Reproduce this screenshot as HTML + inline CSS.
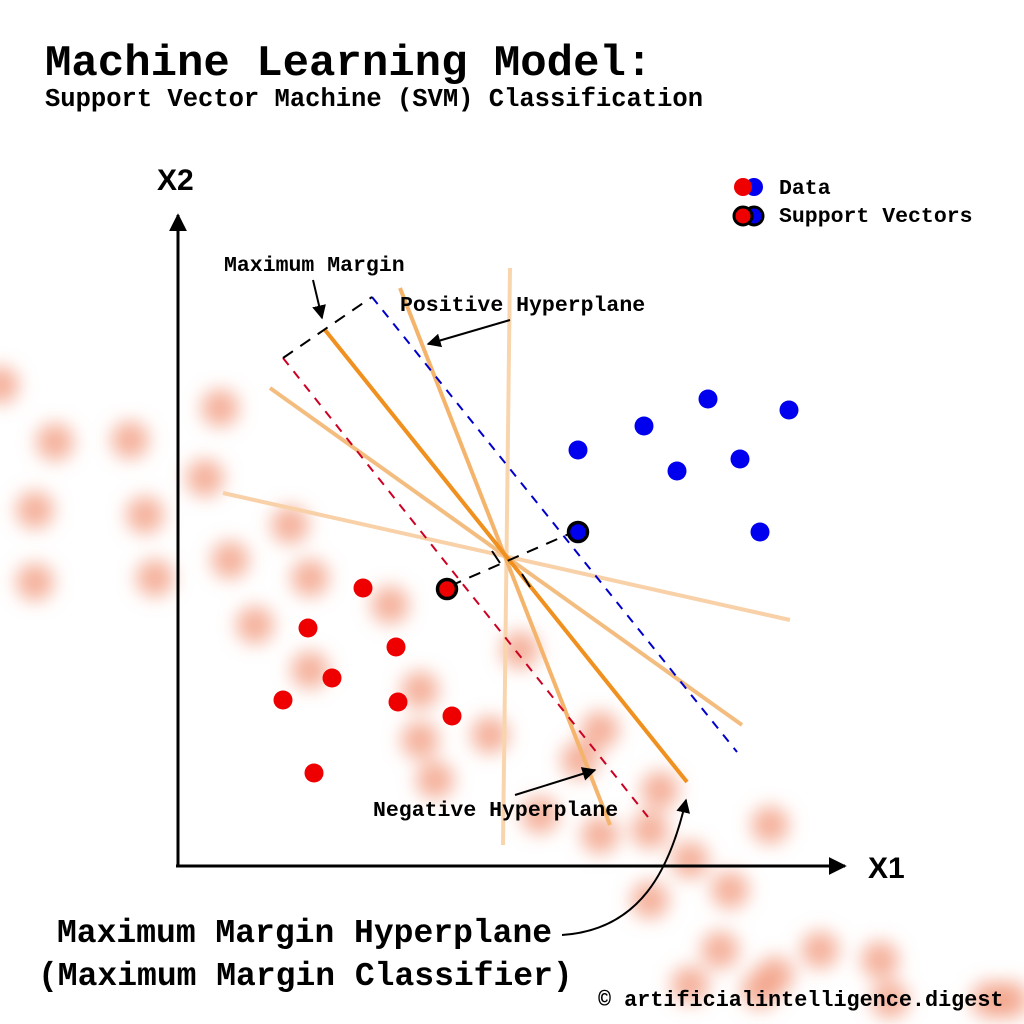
<!DOCTYPE html>
<html><head><meta charset="utf-8"><style>
html,body{margin:0;padding:0;background:#fff;}
svg{display:block;}
.m{font-family:"Liberation Mono",monospace;font-weight:bold;fill:#000;}
</style></head><body>
<svg id="chart" width="1024" height="1024" viewBox="0 0 1024 1024" xmlns="http://www.w3.org/2000/svg">
<defs>
<filter id="blur" x="-50%" y="-50%" width="200%" height="200%"><feGaussianBlur stdDeviation="9"/></filter>
<marker id="ah" viewBox="0 0 10 10" refX="9" refY="5" markerWidth="7" markerHeight="7" orient="auto"><path d="M0,0 L10,5 L0,10 z" fill="#000"/></marker>
<marker id="big" viewBox="0 0 10 10" refX="9" refY="5" markerWidth="6" markerHeight="6" orient="auto"><path d="M0,0 L10,5 L0,10 z" fill="#000"/></marker>
</defs>
<g id="bg" filter="url(#blur)"></g>
<text class="m" x="45" y="75" font-size="44">Machine Learning Model:</text>
<text class="m" x="45" y="106" font-size="25.5">Support Vector Machine (SVM) Classification</text>
<g id="axes">
<line x1="178" y1="866" x2="178" y2="215" stroke="#000" stroke-width="3" marker-end="url(#big)"/>
<line x1="176" y1="866" x2="845" y2="866" stroke="#000" stroke-width="3" marker-end="url(#big)"/>
<text x="157" y="190" font-family="Liberation Sans,sans-serif" font-weight="bold" font-size="30">X2</text>
<text x="868" y="878" font-family="Liberation Sans,sans-serif" font-weight="bold" font-size="30">X1</text>
</g>
<g id="lines"></g>
<g id="points"></g>
<g>
<text class="m" x="224" y="271" font-size="21.5">Maximum Margin</text>
<line x1="313" y1="280" x2="322" y2="318" stroke="#000" stroke-width="2" marker-end="url(#ah)"/>
<text class="m" x="400" y="311" font-size="21.5">Positive Hyperplane</text>
<line x1="510" y1="320" x2="428" y2="344" stroke="#000" stroke-width="2" marker-end="url(#ah)"/>
<text class="m" x="373" y="816" font-size="21.5">Negative Hyperplane</text>
<line x1="515" y1="795" x2="595" y2="770" stroke="#000" stroke-width="2" marker-end="url(#ah)"/>
<path d="M562,935 C640,930 670,870 686,800" fill="none" stroke="#000" stroke-width="2" marker-end="url(#ah)"/>
<text class="m" x="57" y="942" font-size="33">Maximum Margin Hyperplane</text>
<text class="m" x="38" y="985" font-size="33">(Maximum Margin Classifier)</text>
<text class="m" x="598" y="1006" font-size="21.8">© artificialintelligence.digest</text>
</g>
<g>
<circle cx="754" cy="187" r="9" fill="#0000ee"/><circle cx="743" cy="187" r="9" fill="#ee0000"/>
<text class="m" x="779" y="194" font-size="21.5">Data</text>
<circle cx="754" cy="216" r="9" fill="#0000ee" stroke="#000" stroke-width="3"/><circle cx="743" cy="216" r="9" fill="#ee0000" stroke="#000" stroke-width="3"/>
<text class="m" x="779" y="222" font-size="21.5">Support Vectors</text>
</g>
</svg>
<script>
// data units: 1 unit = 10px from axis origin
const redX1 = [18.5, 13, 21.8, 15.4, 10.5, 22, 27.4, 13.6];
const redX2 = [27.7, 23.7, 21.8, 18.7, 16.5, 16.3, 14.9, 9.2];
const blueX1 = [40, 46.6, 53, 61.1, 49.9, 56.2, 58.2];
const blueX2 = [41.5, 43.9, 46.6, 45.5, 39.4, 40.6, 33.3];
const supportX1 = [26.9, 40];
const supportX2 = [27.6, 33.3];
const supportClass = ["red", "blue"];
const bgX = [0,55,130,220,205,35,145,35,155,230,290,310,255,390,310,420,490,420,520,435,540,600,660,690,730,770,650,720,775,820,880,690,760,890,990,600,580,1010,650];
const bgY = [385,442,440,408,478,510,515,582,578,560,525,578,625,605,670,690,735,740,650,780,815,835,790,860,890,825,900,950,975,950,960,985,990,1000,1000,730,760,1000,830];
const xs = v => 178 + v * 10;
const ys = v => 865 - v * 10;
const NS = "http://www.w3.org/2000/svg";
function mk(tag, attrs, parent) {
  const e = document.createElementNS(NS, tag);
  for (const k in attrs) e.setAttribute(k, attrs[k]);
  parent.appendChild(e);
  return e;
}
const bg = document.getElementById('bg');
for (let i = 0; i < bgX.length; i++) {
  const c = mk('circle', {cx: bgX[i], cy: bgY[i], r: 19, fill: '#f29a7c', opacity: 0.75}, bg);
  
  
}
const L = document.getElementById('lines');
function ln(a, st) {
  const e = mk('line', Object.assign({x1: a[0], y1: a[1], x2: a[2], y2: a[3]}, st), L);
  return e;
}
let e;
e = ln([510,268,503,845], {stroke:'#f9d5ad', 'stroke-width':4});


e = ln([223,493,790,620], {stroke:'#f8d1a8', 'stroke-width':4});


e = ln([270,388,742,725], {stroke:'#f4bd80', 'stroke-width':4});


e = ln([400,288,610,825], {stroke:'#f4b46c', 'stroke-width':4});


e = ln([372,297,737,752], {stroke:'#0000cc', 'stroke-width':2, 'stroke-dasharray':'9,8'});


e = ln([283,358,648,817], {stroke:'#cc0022', 'stroke-width':2, 'stroke-dasharray':'9,8'});


e = ln([325,330,687,782], {stroke:'#f0901e', 'stroke-width':4});


e = ln([283,358,372,297], {stroke:'#000', 'stroke-width':2, 'stroke-dasharray':'12,9'});


e = ln([450,586,578,530], {stroke:'#000', 'stroke-width':2, 'stroke-dasharray':'12,9'});


e = ln([492,551,500,563], {stroke:'#000', 'stroke-width':2});


e = ln([522,574,530,587], {stroke:'#000', 'stroke-width':2});


const P = document.getElementById('points');
for (let i = 0; i < redX1.length; i++) {
  const c = mk('circle', {cx: xs(redX1[i]), cy: ys(redX2[i]), r: 9.5, fill: '#ee0000'}, P);
  
  
}
for (let i = 0; i < blueX1.length; i++) {
  const c = mk('circle', {cx: xs(blueX1[i]), cy: ys(blueX2[i]), r: 9.5, fill: '#0000ee'}, P);
  
  
}
for (let i = 0; i < supportX1.length; i++) {
  const c = mk('circle', {cx: xs(supportX1[i]), cy: ys(supportX2[i]), r: 9.5, fill: supportClass[i] === 'red' ? '#ee0000' : '#0000ee', stroke: '#000', 'stroke-width': 3.5}, P);
  
  
}
</script>
</body></html>
